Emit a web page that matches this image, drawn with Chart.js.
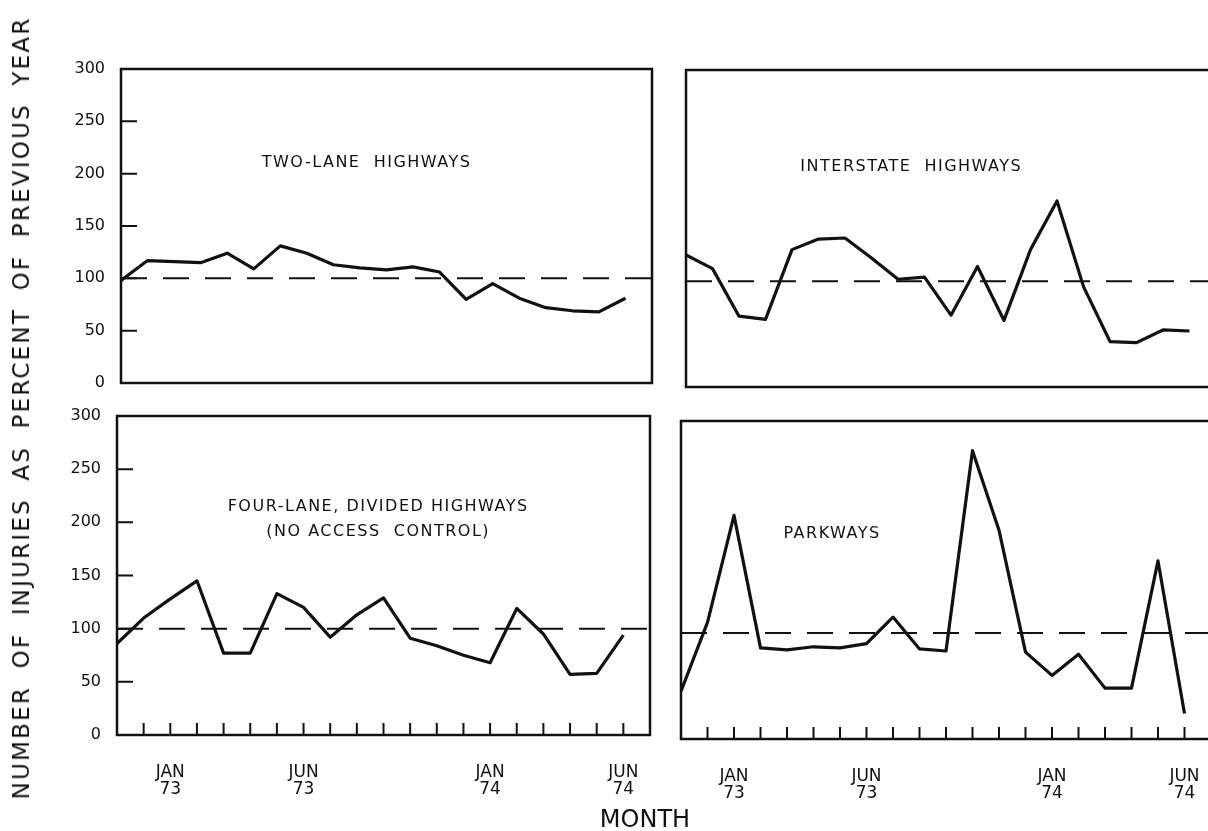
<!DOCTYPE html>
<html>
<head>
<meta charset="utf-8">
<script src="https://cdn.jsdelivr.net/npm/chart.js@4.4.1/dist/chart.umd.min.js"></script>
<style>
  html, body { margin: 0; padding: 0; background: #fff; overflow: hidden; }
  body { width: 1208px; height: 831px; position: relative; font-family: "DejaVu Sans", sans-serif; color: #111; }
  canvas { position: absolute; }
  #ytitle { position: absolute; left: 21px; top: 408px; transform: translate(-50%, -50%) rotate(-90deg);
            white-space: nowrap; font-size: 23px; letter-spacing: 2.2px; word-spacing: 8px; }
  #xtitle { position: absolute; left: 645px; top: 819px; transform: translate(-50%, -50%); font-size: 24px; }
</style>
</head>
<body>
<canvas id="twoLane"></canvas>
<canvas id="interstate"></canvas>
<canvas id="fourLane"></canvas>
<canvas id="parkways"></canvas>
<div id="ytitle">NUMBER OF INJURIES AS PERCENT OF PREVIOUS YEAR</div>
<div id="xtitle">MONTH</div>
<script>
// months Nov 72 .. Jun 74, one point per month
const months = ['NOV 72', 'DEC 72', 'JAN 73', 'FEB 73', 'MAR 73', 'APR 73', 'MAY 73', 'JUN 73', 'JUL 73', 'AUG 73',
                'SEP 73', 'OCT 73', 'NOV 73', 'DEC 73', 'JAN 74', 'FEB 74', 'MAR 74', 'APR 74', 'MAY 74', 'JUN 74'];
const labeledMonths = ['JAN', 'JUN'];

// injuries as percent of previous year
const twoLane    = [98, 117, 116, 115, 124, 109, 131, 124, 113, 110, 108, 111, 106, 80, 95, 81, 72, 69, 68, 81];
const interstate = [125, 112, 67, 64, 130, 140, 141, 122, 102, 104, 68, 114, 63, 130, 176, 95, 43, 42, 54, 53];
const fourLane   = [86, 110, 128, 145, 77, 77, 133, 120, 92, 113, 129, 91, 84, 75, 68, 119, 95, 57, 58, 94];
const parkways   = [45, 110, 211, 86, 84, 87, 86, 90, 115, 85, 83, 272, 197, 82, 60, 80, 48, 48, 168, 24];

const baseline = [100, 100];
const yTicks = [0, 50, 100, 150, 200, 250, 300];

const frame = {
    id: 'frame',
    afterDatasetsDraw(chart) {
        const { ctx, chartArea: a, scales: { x, y } } = chart;
        const o = chart.options.plugins.frame;
        ctx.save();
        ctx.strokeStyle = '#111';
        ctx.lineWidth = 2.5;
        ctx.strokeRect(a.left, a.top, a.right - a.left, a.bottom - a.top);

        // short inner ticks
        ctx.lineWidth = 2;
        ctx.beginPath();
        if (o.yTicks) {
            yTicks.slice(1, -1).forEach(v => {
                const py = y.getPixelForValue(v);
                ctx.moveTo(a.left, py);
                ctx.lineTo(a.left + 16, py);
            });
        }
        if (o.xTicks) {
            months.forEach((m, i) => {
                if (i === 0) return;
                const px = x.getPixelForValue(i);
                ctx.moveTo(px, a.bottom);
                ctx.lineTo(px, a.bottom - 12);
            });
        }
        ctx.stroke();

        // panel caption
        ctx.fillStyle = '#111';
        ctx.font = '16px "DejaVu Sans"';
        ctx.textAlign = 'center';
        ctx.textBaseline = 'middle';
        ctx.letterSpacing = '1.5px';
        o.title.forEach((line, k) => {
            ctx.fillText(line, x.getPixelForValue(o.at[0]), y.getPixelForValue(o.at[1]) + k * 25);
        });
        ctx.restore();
    }
};

// box = wanted plot area on the page, m = canvas margin around it
function makePanel(id, box, values, opts) {
    const m = opts.margin;
    const canvas = document.getElementById(id);
    const w = box.r - box.l + m.l + m.r;
    const h = box.b - box.t + m.t + m.b;
    canvas.width = w;
    canvas.height = h;
    canvas.style.width = w + 'px';
    canvas.style.height = h + 'px';
    canvas.style.left = (box.l - m.l) + 'px';
    canvas.style.top = (box.t - m.t) + 'px';

    new Chart(canvas, {
        type: 'line',
        data: {
            datasets: [
                {
                    data: values.map((v, i) => ({ x: i, y: v })),
                    borderColor: '#111',
                    borderWidth: 3.2,
                    borderJoinStyle: 'round',
                    pointRadius: 0,
                    tension: 0,
                },
                {
                    data: baseline.map((v, i) => ({ x: i * months.length, y: v })),
                    borderColor: '#111',
                    borderWidth: 2,
                    borderDash: [26, 16],
                    pointRadius: 0,
                },
            ],
        },
        plugins: [frame],
        options: {
            responsive: false,
            animation: false,
            devicePixelRatio: 1,
            layout: {
                autoPadding: false,
                padding: {
                    left: opts.showY ? 0 : m.l,
                    top: m.t,
                    right: m.r,
                    bottom: opts.showX ? 0 : m.b,
                },
            },
            plugins: {
                legend: { display: false },
                tooltip: { enabled: false },
                frame: { yTicks: opts.showY, xTicks: opts.showX, title: opts.title, at: opts.at },
            },
            scales: {
                x: {
                    type: 'linear',
                    display: opts.showX,
                    min: 0,
                    max: months.length,
                    grid: { display: false },
                    border: { display: false },
                    afterBuildTicks: s => { s.ticks = months.map((mo, i) => ({ value: i })); },
                    afterFit: s => { if (opts.showX) s.height = m.b; },
                    ticks: {
                        autoSkip: false,
                        maxRotation: 0,
                        padding: 22,
                        color: '#111',
                        font: { family: '"DejaVu Sans"', size: 17, lineHeight: 0.95 },
                        callback: v => {
                            const [mo, yr] = months[v].split(' ');
                            return labeledMonths.includes(mo) ? [mo, yr] : '';
                        },
                    },
                },
                y: {
                    display: opts.showY,
                    min: 0,
                    max: 300,
                    grid: { display: false },
                    border: { display: false },
                    afterBuildTicks: s => { s.ticks = yTicks.map(v => ({ value: v })); },
                    afterFit: s => { if (opts.showY) s.width = m.l; },
                    ticks: {
                        padding: 8,
                        color: '#111',
                        font: { family: '"DejaVu Sans"', size: 16 },
                    },
                },
            },
        },
    });
}

makePanel('twoLane', { l: 121, t: 69, r: 652, b: 383 }, twoLane,
    { showY: true, showX: false, margin: { l: 121, t: 22, r: 12, b: 22 },
      title: ['TWO-LANE  HIGHWAYS'], at: [9.25, 210] });
makePanel('interstate', { l: 686, t: 70, r: 1216, b: 387 }, interstate,
    { showY: false, showX: false, margin: { l: 12, t: 14, r: 12, b: 12 },
      title: ['INTERSTATE  HIGHWAYS'], at: [8.5, 208] });
makePanel('fourLane', { l: 117, t: 416, r: 650, b: 735 }, fourLane,
    { showY: true, showX: true, margin: { l: 117, t: 22, r: 26, b: 70 },
      title: ['FOUR-LANE, DIVIDED HIGHWAYS', '(NO ACCESS  CONTROL)'], at: [9.8, 215] });
makePanel('parkways', { l: 681, t: 421, r: 1211, b: 739 }, parkways,
    { showY: false, showX: true, margin: { l: 26, t: 14, r: 26, b: 70 },
      title: ['PARKWAYS'], at: [5.7, 194] });
</script>
</body>
</html>
